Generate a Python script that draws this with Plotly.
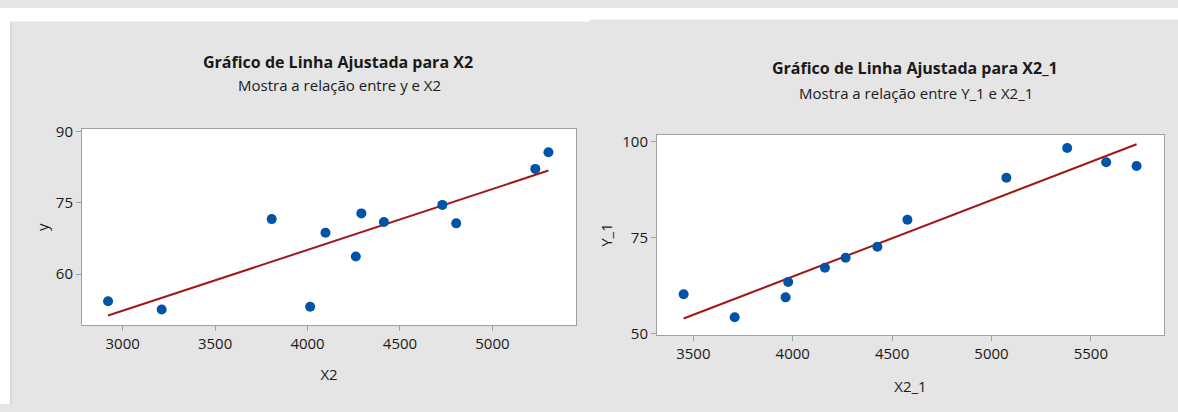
import numpy as np
import plotly.graph_objects as go

# ---- data ----
x2 = [2921, 3211, 3806, 4014, 4097, 4261, 4291, 4413, 4729, 4804, 5232, 5303]
y = [54.25, 52.5, 71.6, 53.1, 68.7, 63.7, 72.8, 71.0, 74.6, 70.7, 82.2, 85.7]

x2_1 = [3451, 3708, 3964, 3977, 4162, 4266, 4426, 4577, 5075, 5381, 5577, 5730]
y_1 = [60.3, 54.3, 59.5, 63.5, 67.2, 69.8, 72.7, 79.7, 90.65, 98.4, 94.7, 93.7]

left_xticks = [3000, 3500, 4000, 4500, 5000]
left_yticks = [60, 75, 90]
right_xticks = [3500, 4000, 4500, 5000, 5500]
right_yticks = [50, 75, 100]

titles = ["Gráfico de Linha Ajustada para X2", "Gráfico de Linha Ajustada para X2_1"]
subtitles = ["Mostra a relação entre y e X2", "Mostra a relação entre Y_1 e X2_1"]

W, H = 1178, 412
FONT = "Open Sans"
TXT = "#1a1a1a"
DOT = "#0053a6"
LINE = "#a01818"
GRAY = "#e5e5e5"


def fit(xs, ys):
    b, a = np.polyfit(xs, ys, 1)
    xe = [min(xs), max(xs)]
    return xe, [a + b * v for v in xe]


fig = go.Figure()

lx, ly = fit(x2, y)
rx, ry = fit(x2_1, y_1)

fig.add_trace(go.Scatter(x=lx, y=ly, mode="lines", line=dict(color=LINE, width=2),
                         xaxis="x", yaxis="y", showlegend=False, hoverinfo="skip"))
fig.add_trace(go.Scatter(x=x2, y=y, mode="markers", marker=dict(color=DOT, size=10),
                         xaxis="x", yaxis="y", showlegend=False))
fig.add_trace(go.Scatter(x=rx, y=ry, mode="lines", line=dict(color=LINE, width=2),
                         xaxis="x2", yaxis="y2", showlegend=False, hoverinfo="skip"))
fig.add_trace(go.Scatter(x=x2_1, y=y_1, mode="markers", marker=dict(color=DOT, size=10),
                         xaxis="x2", yaxis="y2", showlegend=False))


def px(v):
    return v / W


def py(v):
    return 1 - v / H


axis_common = dict(showgrid=False, zeroline=False, showline=True, linecolor="#a0a0a0",
                   linewidth=1, mirror=True, ticks="outside", ticklen=5, tickcolor="#a0a0a0",
                   tickfont=dict(family=FONT, size=15, color=TXT),
                   title_font=dict(family=FONT, size=15, color=TXT))

fig.update_layout(
    width=W, height=H, margin=dict(l=0, r=0, t=0, b=0),
    paper_bgcolor=GRAY, plot_bgcolor="white",
    font=dict(family=FONT, color=TXT),
    xaxis=dict(domain=[px(82), px(576)], range=[2780, 5452], tickvals=left_xticks,
               anchor="y", title=dict(text="X2", standoff=17), **axis_common),
    yaxis=dict(domain=[py(330), py(126)], range=[49.2, 90.6], tickvals=left_yticks,
               anchor="x", title=dict(text="y", standoff=3), **axis_common),
    xaxis2=dict(domain=[px(657), px(1164)], range=[3317, 5868], tickvals=right_xticks,
                anchor="y2", title=dict(text="X2_1", standoff=19), **axis_common),
    yaxis2=dict(domain=[py(340.7), py(131.7)], range=[49.57, 101.9], tickvals=right_yticks,
                anchor="x2", title=dict(text="Y_1", standoff=6), **axis_common),
    shapes=[
        dict(type="rect", xref="paper", yref="paper", x0=0, x1=px(10), y0=0, y1=1,
             fillcolor="white", line=dict(width=0), layer="below"),
        dict(type="rect", xref="paper", yref="paper", x0=px(10), x1=px(12), y0=0, y1=py(14),
             fillcolor="#d9d9d9", line=dict(width=0), layer="below"),
        dict(type="rect", xref="paper", yref="paper", x0=0, x1=px(590), y0=py(14), y1=1,
             fillcolor="white", line=dict(width=0), layer="below"),
        dict(type="rect", xref="paper", yref="paper", x0=px(590), x1=1, y0=py(12), y1=1,
             fillcolor="white", line=dict(width=0), layer="below"),
    ],
    annotations=[
        dict(text="<b>" + titles[0] + "</b>", x=px(338), y=py(56), xref="paper", yref="paper",
             xanchor="center", yanchor="middle",
             showarrow=False, font=dict(family=FONT, size=16, color=TXT)),
        dict(text=subtitles[0], x=px(339), y=py(80), xref="paper", yref="paper",
             xanchor="center", yanchor="middle",
             showarrow=False, font=dict(family=FONT, size=15, color=TXT)),
        dict(text="<b>" + titles[1] + "</b>", x=px(915), y=py(62.7), xref="paper", yref="paper",
             xanchor="center", yanchor="middle",
             showarrow=False, font=dict(family=FONT, size=16, color=TXT)),
        dict(text=subtitles[1], x=px(916), y=py(88.3), xref="paper", yref="paper",
             xanchor="center", yanchor="middle",
             showarrow=False, font=dict(family=FONT, size=15, color=TXT)),
    ],
)

fig.write_html(
    "out.html",
    config={"displayModeBar": False},
    post_script=(
        "document.body.style.margin='0';"
        "document.documentElement.style.overflow='hidden';"
        "var d=document.getElementById('{plot_id}');"
        "d.style.position='fixed';d.style.top='0px';d.style.left='0px';"
    ),
)
